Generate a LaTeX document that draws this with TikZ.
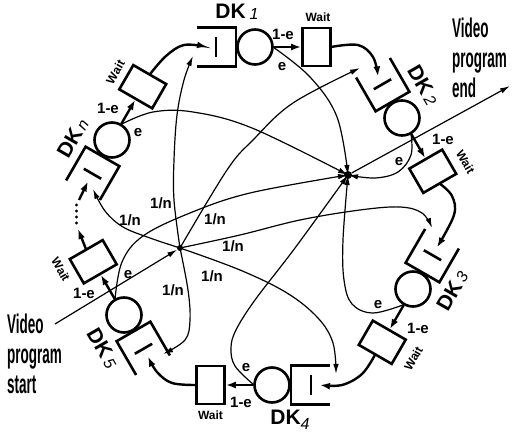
\documentclass[tikz,border=0pt]{standalone}
\usepackage{fontspec}
\setmainfont{Liberation Sans}
\newfontfamily\condfont[FakeStretch=0.5]{Liberation Sans}
\usetikzlibrary{arrows.meta}
\tikzset{
  thickline/.style={line width=2.6pt},
  thkarr/.style={line width=2.4pt,-{Latex[length=10pt,width=7pt]}},
  thnarr/.style={line width=1.2pt,-{Latex[length=10pt,width=5.5pt]}},
  server/.style={circle,draw,line width=2.6pt,minimum size=35pt,inner sep=0pt},
  waitbox/.style={draw,line width=2.6pt,minimum width=28pt,minimum height=38pt,inner sep=0pt},
  hub/.style={circle,fill,inner sep=0pt,minimum size=#1},
  lbl/.style={font=\bfseries\fontsize{15}{15}\selectfont,inner sep=0pt},
  waitlbl/.style={font=\bfseries\fontsize{12}{12}\selectfont,inner sep=0pt},
  dklbl/.style={font=\bfseries\fontsize{21}{21}\selectfont,inner sep=0pt},
  bigtxt/.style={font=\condfont\bfseries\fontsize{27}{30}\selectfont,align=left,inner sep=0pt},
  smoothcurve/.style={smooth,tension=0.6}
}
\newcommand\dknum[1]{{\mdseries\itshape\fontsize{16}{16}\selectfont #1}}
\newcommand\dkstation[7]{%
  \begin{scope}[shift={(#2,#3)},rotate=-#4]
    \node[server] (#1) at (0,0) {};
    \draw[thickline] (-58,-19.5) -- (-19,-19.5) -- (-19,19.5) -- (-58,19.5);
    \draw[thickline] (-39,-10) -- (-39,10);
    \node[waitbox,rotate=-#4] (#1w) at (61.5,0) {};
    \coordinate (#1x) at (18,0);
    \coordinate (#1o) at (76,0);
    \coordinate (#1q) at (-48,0);
    \node[waitlbl,rotate=#5] (#1wl) at #7 {Wait};
    \node[dklbl,rotate=#5] (#1l) at (-18,-35) {#6};
  \end{scope}
  \draw[thkarr] (#1) -- (#1w);
}
\begin{document}
\begin{tikzpicture}[x=1pt,y=-1pt]
\useasboundingbox (0,0) rectangle (512,435);
% stations
\dkstation{K1}{255}{47}{0}{0}{DK\hspace{4pt}\raisebox{-1pt}{\dknum{1}}}{(63,-30)}
\dkstation{K2}{402}{118}{60}{-60}{DK\hspace{3pt}\dknum{2}}{(70,-33)}
\dkstation{K3}{413}{289}{120}{60}{DK\hspace{3pt}\dknum{3}}{(60,-35)}
\dkstation{K4}{272}{385}{180}{0}{DK\raisebox{-5pt}{\dknum{4}}}{(61.5,-30)}
\dkstation{K5}{124}{315}{240}{-60}{DK\hspace{3pt}\dknum{5}}{(71,-32)}
\dkstation{Kn}{112}{140}{300}{60}{DK\hspace{3pt}\dknum{n}}{(60.5,-31)}
% hubs
\node[hub=6pt] (S) at (180,248) {};
\node[hub=8pt] (E) at (348,175) {};
\coordinate (vs) at (55,324);
\coordinate (ve) at (510,86);
% thin tips into queues
\coordinate (K1s) at (193,56);
\coordinate (K2s) at (360,68);
\coordinate (K3s) at (432,228);
\coordinate (K4s) at (336,374);
\coordinate (K5s) at (163,354);
\coordinate (Kns) at (93,189);
% wait -> next queue
\draw[thkarr] plot[smoothcurve] coordinates {(Kno) (166,56) (184,45) (K1q)};
\draw[thkarr] plot[smoothcurve] coordinates {(K1o) (358,45) (373,57) (K2q)};
\draw[thkarr] plot[smoothcurve] coordinates {(K2o) (452,196) (454,215) (K3q)};
\draw[thkarr] plot[smoothcurve] coordinates {(K3o) (362,374) (342,385) (K4q)};
\draw[thkarr] plot[smoothcurve] coordinates {(K4o) (172,383) (157,372) (K5q)};
\coordinate (d1) at (78,229);
\coordinate (d2) at (79,200);
\draw[thkarr] (K5o) -- (d1);
\foreach \yy in {205,211,217,223} \fill (76.5,\yy) circle (1.7);
\draw[thkarr] (d2) -- (Knq);
% start hub -> queues
\draw[thnarr] (vs) -- (S);
\draw[thnarr] plot[smoothcurve] coordinates {(S) (174,200) (174,160) (177,115) (184,80) (K1s)};
\draw[thnarr] plot[smoothcurve] coordinates {(S) (227,170) (253,140) (293,103) (K2s)};
\draw[thnarr] plot[smoothcurve] coordinates {(S) (240,235) (300,220) (360,210) (400,207) (422,213) (K3s)};
\draw[thnarr] plot[smoothcurve] coordinates {(S) (240,270) (287,293) (318,318) (333,343) (K4s)};
\draw[thnarr] plot[smoothcurve] coordinates {(S) (188,290) (190,320) (185,340) (K5s)};
\draw[thnarr] plot[smoothcurve] coordinates {(S) (150,238) (123,227) (105,211) (Kns)};
% e -> end hub
\draw[thnarr] plot[smoothcurve] coordinates {(K1x) (310,77) (337,117) (E)};
\draw[thnarr] plot[smoothcurve] coordinates {(K2x) (411,155) (398,172) (375,178) (E)};
\draw[thnarr] plot[smoothcurve] coordinates {(K3x) (373,313) (352,304) (344,280) (343,240) (E)};
\draw[thnarr] plot[smoothcurve] coordinates {(K4x) (235,366) (231,348) (236,330) (255,300) (295,248) (E)};
\draw[thnarr] plot[smoothcurve] coordinates {(K5x) (122,262) (143,236) (190,213) (250,193) (E)};
\draw[thnarr] plot[smoothcurve] coordinates {(Knx) (153,112) (193,112) (252,128) (E)};
\draw[thnarr] (E) -- (ve);
% labels
\node[lbl] (e1) at (282,67) {e};
\node[lbl] (e2) at (399,162) {e};
\node[lbl] (e3) at (378,305) {e};
\node[lbl] (e4) at (246,368) {e};
\node[lbl] (e5) at (128,275) {e};
\node[lbl] (e6) at (138,133) {e};
\node[lbl] (m1) at (283,34) {1-e};
\node[lbl] (m2) at (443,139) {1-e};
\node[lbl] (m3) at (418,328) {1-e};
\node[lbl] (m4) at (241,402) {1-e};
\node[lbl] (m5) at (84,293) {1-e};
\node[lbl] (m6) at (108,108) {1-e};
\node[lbl] (n1) at (161,203) {1/n};
\node[lbl] (n2) at (130,220) {1/n};
\node[lbl] (n3) at (215,219) {1/n};
\node[lbl] (n4) at (233,246) {1/n};
\node[lbl] (n5) at (212,276) {1/n};
\node[lbl] (n6) at (173,290) {1/n};
\node[bigtxt,anchor=north west] (tend) at (452,18) {Video\\program\\end};
\node[bigtxt,anchor=north west] (tstart) at (7,314) {Video\\program\\start};
\end{tikzpicture}
\end{document}
